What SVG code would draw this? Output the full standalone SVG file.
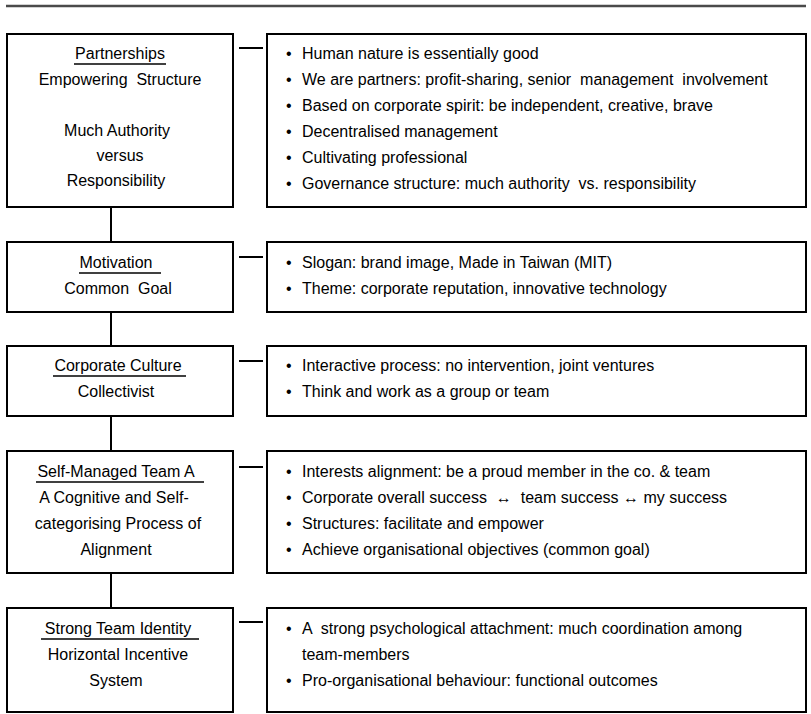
<svg xmlns="http://www.w3.org/2000/svg" width="811" height="714" viewBox="0 0 811 714">
  <style>
    .box { fill: #ffffff; stroke: #000000; stroke-width: 2; }
    .link { stroke: #000000; stroke-width: 2; fill: none; }
    .rule { stroke: #4a4a4a; stroke-width: 2.5; }
    .uline { stroke: #000000; stroke-width: 1.3; }
    text { font-family: "Liberation Sans", Arial, sans-serif; font-size: 16px; fill: #000000; }
    .c { text-anchor: middle; }
    .pre { white-space: pre; }
  </style>
  <rect width="811" height="714" fill="#ffffff"/>
  <line class="rule" x1="6" y1="6" x2="806" y2="6"/>

  <!-- connectors: vertical chain between stages and short ties to the bullet boxes -->
  <g id="connectors">
    <line class="link" x1="111" y1="207" x2="111" y2="242"/>
    <line class="link" x1="111" y1="312" x2="111" y2="346"/>
    <line class="link" x1="111" y1="416" x2="111" y2="451"/>
    <line class="link" x1="111" y1="573" x2="111" y2="608"/>
    <line class="link" x1="239" y1="48" x2="263" y2="48"/>
    <line class="link" x1="239" y1="257" x2="263" y2="257"/>
    <line class="link" x1="239" y1="361" x2="263" y2="361"/>
    <line class="link" x1="239" y1="467" x2="263" y2="467"/>
    <line class="link" x1="239" y1="622" x2="263" y2="622"/>
  </g>

  <!-- stage 1 -->
  <g id="partnerships">
    <rect class="box" x="7" y="34" width="226" height="173"/>
    <text class="c" x="120" y="59">Partnerships</text>
    <line class="uline" x1="74" y1="64" x2="166" y2="64"/>
    <text class="c pre" x="120" y="85">Empowering  Structure</text>
    <text class="c" x="117" y="136">Much Authority</text>
    <text class="c" x="120" y="161">versus</text>
    <text class="c" x="116" y="186">Responsibility</text>
  </g>
  <g id="partnerships-points">
    <rect class="box" x="267" y="34" width="539" height="173"/>
    <text x="286" y="59">•</text><text x="302" y="59">Human nature is essentially good</text>
    <text x="286" y="85">•</text><text class="pre" x="302" y="85">We are partners: profit-sharing, senior  management  involvement</text>
    <text x="286" y="111">•</text><text x="302" y="111">Based on corporate spirit: be independent, creative, brave</text>
    <text x="286" y="137">•</text><text x="302" y="137">Decentralised management</text>
    <text x="286" y="163">•</text><text x="302" y="163">Cultivating professional</text>
    <text x="286" y="189">•</text><text class="pre" x="302" y="189">Governance structure: much authority  vs. responsibility</text>
  </g>

  <!-- stage 2 -->
  <g id="motivation">
    <rect class="box" x="7" y="242" width="226" height="70"/>
    <text class="c" x="116" y="268">Motivation</text>
    <line class="uline" x1="79" y1="273" x2="161" y2="273"/>
    <text class="c pre" x="118" y="294">Common  Goal</text>
  </g>
  <g id="motivation-points">
    <rect class="box" x="267" y="242" width="539" height="70"/>
    <text x="286" y="268">•</text><text x="302" y="268">Slogan: brand image, Made in Taiwan (MIT)</text>
    <text x="286" y="294">•</text><text x="302" y="294">Theme: corporate reputation, innovative technology</text>
  </g>

  <!-- stage 3 -->
  <g id="corporate-culture">
    <rect class="box" x="7" y="346" width="226" height="70"/>
    <text class="c" x="118" y="371">Corporate Culture</text>
    <line class="uline" x1="53" y1="376" x2="186" y2="376"/>
    <text class="c" x="116" y="397">Collectivist</text>
  </g>
  <g id="corporate-culture-points">
    <rect class="box" x="267" y="346" width="539" height="70"/>
    <text x="286" y="371">•</text><text x="302" y="371">Interactive process: no intervention, joint ventures</text>
    <text x="286" y="397">•</text><text x="302" y="397">Think and work as a group or team</text>
  </g>

  <!-- stage 4 -->
  <g id="self-managed-team">
    <rect class="box" x="7" y="451" width="226" height="122"/>
    <text class="c" x="116" y="477">Self-Managed Team A</text>
    <line class="uline" x1="36" y1="482" x2="204" y2="482"/>
    <text class="c" x="114" y="503">A Cognitive and Self-</text>
    <text class="c" x="118" y="529">categorising Process of</text>
    <text class="c" x="116" y="555">Alignment</text>
  </g>
  <g id="self-managed-team-points">
    <rect class="box" x="267" y="451" width="539" height="122"/>
    <text x="286" y="477">•</text><text x="302" y="477">Interests alignment: be a proud member in the co. &amp; team</text>
    <text x="286" y="503">•</text><text class="pre" x="302" y="503">Corporate overall success  ↔  team success ↔ my success</text>
    <text x="286" y="529">•</text><text x="302" y="529">Structures: facilitate and empower</text>
    <text x="286" y="555">•</text><text x="302" y="555">Achieve organisational objectives (common goal)</text>
  </g>

  <!-- stage 5 -->
  <g id="team-identity">
    <rect class="box" x="7" y="608" width="226" height="104"/>
    <text class="c" x="118" y="634">Strong Team Identity</text>
    <line class="uline" x1="41" y1="639" x2="199" y2="639"/>
    <text class="c" x="118" y="660">Horizontal Incentive</text>
    <text class="c" x="116" y="686">System</text>
  </g>
  <g id="team-identity-points">
    <rect class="box" x="267" y="608" width="539" height="104"/>
    <text x="286" y="634">•</text><text class="pre" x="302" y="634">A  strong psychological attachment: much coordination among</text>
    <text x="302" y="660">team-members</text>
    <text x="286" y="686">•</text><text x="302" y="686">Pro-organisational behaviour: functional outcomes</text>
  </g>
</svg>
